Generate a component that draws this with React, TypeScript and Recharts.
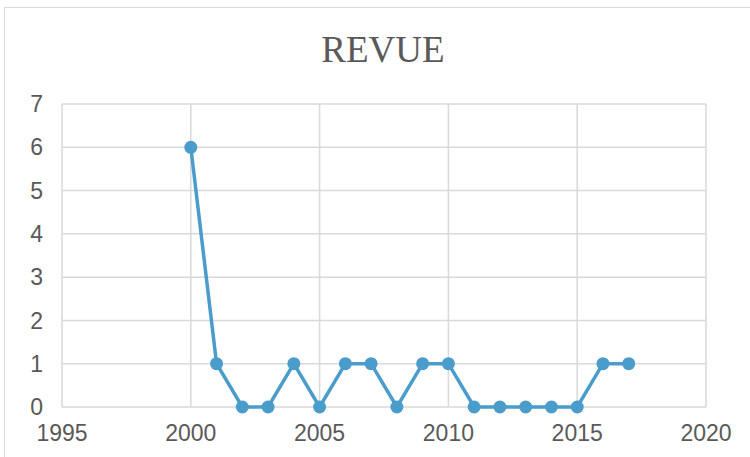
import React from "react";
import { LineChart, Line, XAxis, YAxis, CartesianGrid } from "recharts";

const years = [2000, 2001, 2002, 2003, 2004, 2005, 2006, 2007, 2008, 2009, 2010, 2011, 2012, 2013, 2014, 2015, 2016, 2017];
const values = [6, 1, 0, 0, 1, 0, 1, 1, 0, 1, 1, 0, 0, 0, 0, 0, 1, 1];
const xTicks = [1995, 2000, 2005, 2010, 2015, 2020];
const yTicks = [0, 1, 2, 3, 4, 5, 6, 7];
const title = "REVUE";

const data = years.map((y, i) => ({ year: y, value: values[i] }));

const tickFont = { fill: "#595959", fontSize: 23, fontFamily: "'Liberation Sans', Arial, sans-serif" };

export default function App() {
  return (
    <div style={{ position: "absolute", left: 0, top: 0, width: 750, height: 457, overflow: "hidden", background: "#fff" }}>
      <div style={{ position: "absolute", left: 4, top: 7, width: 800, height: 500, border: "1.5px solid #d9d9d9", boxSizing: "border-box" }} />
      <div style={{ position: "absolute", left: 0, top: 28, width: 766, textAlign: "center", fontFamily: "'Liberation Serif', 'Times New Roman', serif", fontSize: 37, color: "#595959", lineHeight: "44px" }}>
        {title}
      </div>
      <div style={{ position: "absolute", left: 0, top: 0 }}>
        <LineChart width={750} height={457} data={data} margin={{ top: 104, right: 44, bottom: 0, left: 12 }}>
          <CartesianGrid stroke="#d9d9d9" strokeWidth={1.5} />
          <XAxis
            dataKey="year"
            type="number"
            domain={[1995, 2020]}
            ticks={xTicks}
            tickLine={false}
            axisLine={false}
            tickMargin={12}
            height={50}
            tick={tickFont}
            interval={0}
          />
          <YAxis
            type="number"
            domain={[0, 7]}
            ticks={yTicks}
            tickLine={false}
            axisLine={false}
            tickMargin={13}
            width={50}
            tick={tickFont}
            interval={0}
          />
          <Line
            dataKey="value"
            stroke="#4a9ccb"
            strokeWidth={3.5}
            dot={{ r: 6.5, fill: "#4a9ccb", stroke: "#4a9ccb", strokeWidth: 0 }}
            isAnimationActive={false}
          />
        </LineChart>
      </div>
    </div>
  );
}
